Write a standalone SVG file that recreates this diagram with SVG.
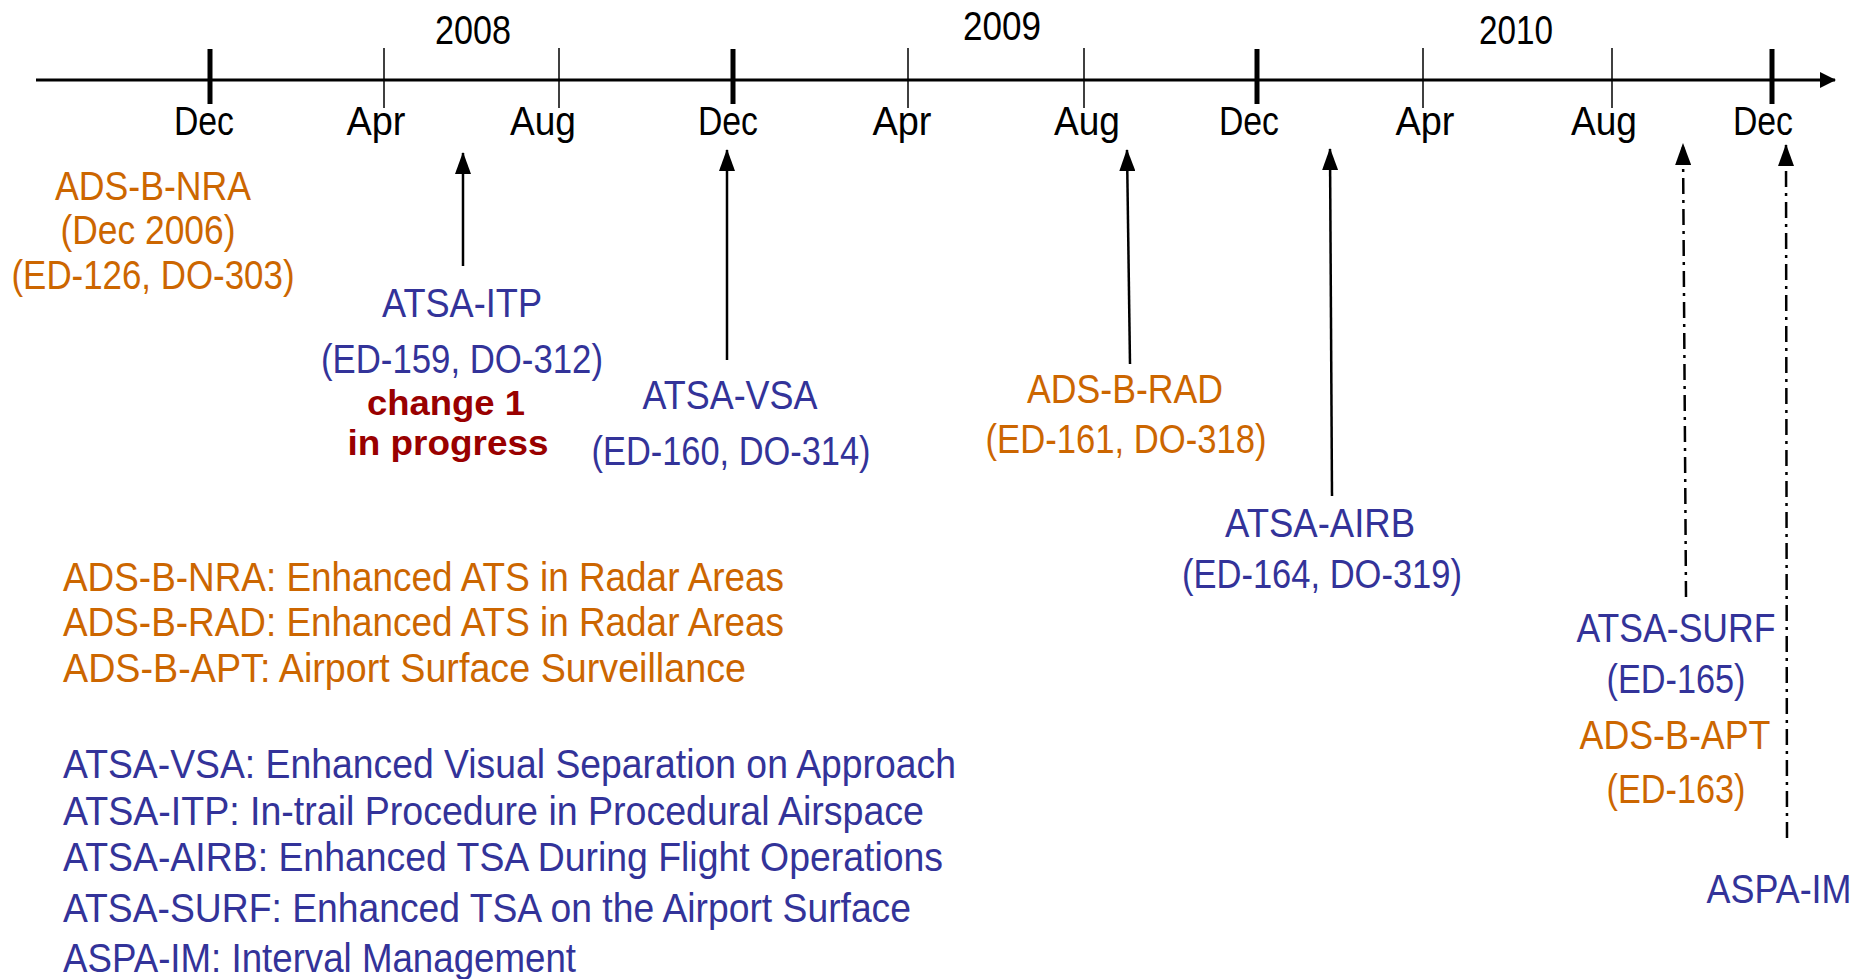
<svg xmlns="http://www.w3.org/2000/svg" width="1870" height="979" viewBox="0 0 1870 979">
<defs>
<style>
text{font-family:"Liberation Sans Narrow","Liberation Sans",Arial,sans-serif;font-size:41px;text-anchor:middle}
.w{font-family:"Liberation Sans",Arial,sans-serif}
.k{fill:#000}
.o{fill:#CC6600}
.b{fill:#333399}
.r{fill:#990000;font-family:"Liberation Sans",Arial,sans-serif;font-weight:bold;font-size:35px}
.lg{text-anchor:start}
.axis{stroke:#000;stroke-width:3;fill:none}
.maj{stroke:#000;stroke-width:5}
.min{stroke:#000;stroke-width:1.5}
.con{stroke:#000;stroke-width:2.5;fill:none}
.dd{stroke-dasharray:16 6 3 6}
</style>
<marker id="ah" viewBox="0 0 22 16" refX="21" refY="8" markerWidth="22" markerHeight="16" markerUnits="userSpaceOnUse" orient="auto">
<path d="M0,0 L22,8 L0,16 z" fill="#000"/>
</marker>
<marker id="axh" viewBox="0 0 16 16" refX="15" refY="8" markerWidth="16" markerHeight="16" markerUnits="userSpaceOnUse" orient="auto">
<path d="M0,0 L16,8 L0,16 z" fill="#000"/>
</marker>
</defs>
<rect width="1870" height="979" fill="#fff"/>

<g id="timeline">
<line class="axis" x1="36" y1="80" x2="1835" y2="80" marker-end="url(#axh)"/>
<line class="maj" x1="210" y1="49" x2="210" y2="104"/>
<line class="maj" x1="733" y1="49" x2="733" y2="104"/>
<line class="maj" x1="1257" y1="49" x2="1257" y2="104"/>
<line class="maj" x1="1772" y1="49" x2="1772" y2="104"/>
<line class="min" x1="384" y1="48" x2="384" y2="108"/>
<line class="min" x1="559" y1="48" x2="559" y2="108"/>
<line class="min" x1="908" y1="48" x2="908" y2="108"/>
<line class="min" x1="1084" y1="48" x2="1084" y2="108"/>
<line class="min" x1="1423" y1="48" x2="1423" y2="108"/>
<line class="min" x1="1612" y1="48" x2="1612" y2="108"/>
<text class="k" x="473" y="44" textLength="76" lengthAdjust="spacingAndGlyphs">2008</text>
<text class="k" x="1002" y="40" textLength="78" lengthAdjust="spacingAndGlyphs">2009</text>
<text class="k" x="1516" y="44" textLength="74" lengthAdjust="spacingAndGlyphs">2010</text>
<text class="k" x="204" y="135" textLength="60" lengthAdjust="spacingAndGlyphs">Dec</text>
<text class="k" x="376" y="135" textLength="59" lengthAdjust="spacingAndGlyphs">Apr</text>
<text class="k" x="543" y="135" textLength="66" lengthAdjust="spacingAndGlyphs">Aug</text>
<text class="k" x="728" y="135" textLength="60" lengthAdjust="spacingAndGlyphs">Dec</text>
<text class="k" x="902" y="135" textLength="59" lengthAdjust="spacingAndGlyphs">Apr</text>
<text class="k" x="1087" y="135" textLength="66" lengthAdjust="spacingAndGlyphs">Aug</text>
<text class="k" x="1249" y="135" textLength="60" lengthAdjust="spacingAndGlyphs">Dec</text>
<text class="k" x="1425" y="135" textLength="59" lengthAdjust="spacingAndGlyphs">Apr</text>
<text class="k" x="1604" y="135" textLength="66" lengthAdjust="spacingAndGlyphs">Aug</text>
<text class="k" x="1763" y="135" textLength="60" lengthAdjust="spacingAndGlyphs">Dec</text>
</g>

<g id="connectors">
<line class="con" x1="463" y1="266" x2="463" y2="153" marker-end="url(#ah)"/>
<line class="con" x1="727" y1="360" x2="727" y2="150" marker-end="url(#ah)"/>
<line class="con" x1="1130" y1="364" x2="1127" y2="150" marker-end="url(#ah)"/>
<line class="con" x1="1332" y1="496" x2="1330" y2="149" marker-end="url(#ah)"/>
<line class="con dd" x1="1686" y1="597" x2="1683" y2="144" marker-end="url(#ah)"/>
<line class="con dd" x1="1787" y1="838" x2="1786" y2="145" marker-end="url(#ah)"/>
</g>

<g id="ads-b-nra">
<text class="o" x="153" y="200" textLength="196" lengthAdjust="spacingAndGlyphs">ADS-B-NRA</text>
<text class="o" x="148" y="244" textLength="175" lengthAdjust="spacingAndGlyphs">(Dec 2006)</text>
<text class="o" x="153" y="289" textLength="283" lengthAdjust="spacingAndGlyphs">(ED-126, DO-303)</text>
</g>

<g id="atsa-itp">
<text class="b" x="462" y="317" textLength="160" lengthAdjust="spacingAndGlyphs">ATSA-ITP</text>
<text class="b" x="462" y="373" textLength="282" lengthAdjust="spacingAndGlyphs">(ED-159, DO-312)</text>
<text class="r" x="446" y="415" textLength="158" lengthAdjust="spacingAndGlyphs">change 1</text>
<text class="r" x="448" y="455" textLength="201" lengthAdjust="spacingAndGlyphs">in progress</text>
</g>

<g id="atsa-vsa">
<text class="b" x="730" y="409" textLength="175" lengthAdjust="spacingAndGlyphs">ATSA-VSA</text>
<text class="b" x="731" y="465" textLength="279" lengthAdjust="spacingAndGlyphs">(ED-160, DO-314)</text>
</g>

<g id="ads-b-rad">
<text class="o" x="1125" y="403" textLength="196" lengthAdjust="spacingAndGlyphs">ADS-B-RAD</text>
<text class="o" x="1126" y="453" textLength="281" lengthAdjust="spacingAndGlyphs">(ED-161, DO-318)</text>
</g>

<g id="atsa-airb">
<text class="b" x="1320" y="537" textLength="190" lengthAdjust="spacingAndGlyphs">ATSA-AIRB</text>
<text class="b" x="1322" y="588" textLength="280" lengthAdjust="spacingAndGlyphs">(ED-164, DO-319)</text>
</g>

<g id="atsa-surf">
<text class="b w" x="1676" y="642" textLength="199" lengthAdjust="spacingAndGlyphs">ATSA-SURF</text>
<text class="b w" x="1676" y="693" textLength="139" lengthAdjust="spacingAndGlyphs">(ED-165)</text>
</g>

<g id="ads-b-apt">
<text class="o w" x="1675" y="749" textLength="191" lengthAdjust="spacingAndGlyphs">ADS-B-APT</text>
<text class="o w" x="1676" y="803" textLength="139" lengthAdjust="spacingAndGlyphs">(ED-163)</text>
</g>

<g id="aspa-im">
<text class="b w" x="1779" y="903" textLength="145" lengthAdjust="spacingAndGlyphs">ASPA-IM</text>
</g>

<g id="legend">
<text class="o lg" x="63" y="591" textLength="721" lengthAdjust="spacingAndGlyphs">ADS-B-NRA: Enhanced ATS in Radar Areas</text>
<text class="o lg" x="63" y="636" textLength="721" lengthAdjust="spacingAndGlyphs">ADS-B-RAD: Enhanced ATS in Radar Areas</text>
<text class="o lg" x="63" y="682" textLength="683" lengthAdjust="spacingAndGlyphs">ADS-B-APT: Airport Surface Surveillance</text>
<text class="b lg" x="63" y="778" textLength="893" lengthAdjust="spacingAndGlyphs">ATSA-VSA: Enhanced Visual Separation on Approach</text>
<text class="b lg" x="63" y="825" textLength="861" lengthAdjust="spacingAndGlyphs">ATSA-ITP: In-trail Procedure in Procedural Airspace</text>
<text class="b lg" x="63" y="871" textLength="880" lengthAdjust="spacingAndGlyphs">ATSA-AIRB: Enhanced TSA During Flight Operations</text>
<text class="b lg" x="63" y="922" textLength="848" lengthAdjust="spacingAndGlyphs">ATSA-SURF: Enhanced TSA on the Airport Surface</text>
<text class="b lg" x="63" y="972" textLength="513" lengthAdjust="spacingAndGlyphs">ASPA-IM: Interval Management</text>
</g>
</svg>
